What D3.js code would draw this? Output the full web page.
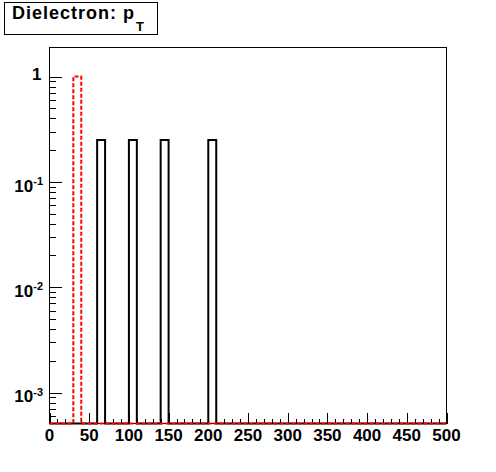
<!DOCTYPE html>
<html>
<head>
<meta charset="utf-8">
<script src="https://cdn.jsdelivr.net/npm/d3@7"></script>
<style>
  body { margin: 0; background: #fff; }
  text { font-family: "Liberation Sans", Arial, sans-serif; font-weight: bold; fill: #000; }
</style>
</head>
<body>
<script>
// histogram data (bin width 10, empty bins are zero)
var binWidth = 10;
var xRange = [0, 500];
var blackBinLow = [60, 100, 140, 200];
var blackValues = [0.25, 0.25, 0.25, 0.25];
var redBinLow = [30];
var redValues = [1];

// axis ticks
var xTickLabels = [0, 50, 100, 150, 200, 250, 300, 350, 400, 450, 500];
var yMajorTicks = [0.001, 0.01, 0.1, 1];
var yTickExponents = [-3, -2, -1, 0];
var yRange = [5.08e-4, 1.885];

// plot frame
var frame = {left: 49.5, right: 446.5, top: 47.5, bottom: 423.5};

var svg = d3.select("body").append("svg")
    .attr("width", 496)
    .attr("height", 472);

svg.append("rect")
    .attr("width", 496)
    .attr("height", 472)
    .attr("fill", "#fff");

var x = d3.scaleLinear().domain(xRange).range([frame.left, frame.right]);
var y = d3.scaleLog().domain(yRange).range([frame.bottom, frame.top]);

// frame
svg.append("rect")
    .attr("x", frame.left)
    .attr("y", frame.top)
    .attr("width", frame.right - frame.left)
    .attr("height", frame.bottom - frame.top)
    .attr("fill", "none")
    .attr("stroke", "#000")
    .attr("stroke-width", 1);

// x axis ticks (major every 50, minor every 10)
var xMinor = [];
for (var v = xRange[0]; v <= xRange[1]; v += binWidth) xMinor.push(v);

svg.append("g")
    .attr("transform", "translate(0," + frame.bottom + ")")
    .call(d3.axisBottom(x).tickValues(xMinor).tickSize(-5).tickFormat(""))
    .call(function(g) { g.select(".domain").remove(); });

svg.append("g")
    .attr("transform", "translate(0," + frame.bottom + ")")
    .call(d3.axisBottom(x).tickValues(xTickLabels).tickSize(-11).tickFormat(""))
    .call(function(g) { g.select(".domain").remove(); });

svg.selectAll(".xlabel")
    .data(xTickLabels)
  .enter().append("text")
    .attr("class", "xlabel")
    .attr("x", function(d) { return x(d); })
    .attr("y", 441)
    .attr("text-anchor", "middle")
    .style("font-size", "17px")
    .text(function(d) { return d; });

// y axis ticks (log, minor at 2..9 of each decade)
var yMinor = [];
yMajorTicks.forEach(function(d) {
  for (var k = 1; k < 10; k++) {
    var t = d * k;
    if (t >= yRange[0] && t <= yRange[1]) yMinor.push(t);
  }
});
yMinor.push(0.0006, 0.0007, 0.0008, 0.0009);

svg.append("g")
    .attr("transform", "translate(" + frame.left + ",0)")
    .call(d3.axisLeft(y).tickValues(yMinor).tickSize(-6).tickFormat(""))
    .call(function(g) { g.select(".domain").remove(); });

svg.append("g")
    .attr("transform", "translate(" + frame.left + ",0)")
    .call(d3.axisLeft(y).tickValues(yMajorTicks).tickSize(-12).tickFormat(""))
    .call(function(g) { g.select(".domain").remove(); });

svg.selectAll(".tick line").attr("stroke", "#000").attr("shape-rendering", "crispEdges");

// y labels: "1" and 10^n
yMajorTicks.forEach(function(d, i) {
  var e = yTickExponents[i];
  if (e === 0) {
    svg.append("text")
        .attr("x", 41.5)
        .attr("y", y(d) + 3.5)
        .attr("text-anchor", "end")
        .style("font-size", "17px")
        .text("1");
  } else {
    var t = svg.append("text")
        .attr("x", 43)
        .attr("y", y(d) + 9.8)
        .attr("text-anchor", "end")
        .style("font-size", "17px");
    t.append("tspan").text("10");
    t.append("tspan")
        .attr("dy", -6.7)
        .style("font-size", "11px")
        .text(String(e).replace("-", "\u2011"));
  }
});

// histogram step paths
function stepPoints(lows, vals) {
  var pts = [[xRange[0], 0]];
  lows.forEach(function(lo, i) {
    pts.push([lo, 0], [lo, vals[i]], [lo + binWidth, vals[i]], [lo + binWidth, 0]);
  });
  pts.push([xRange[1], 0]);
  return pts;
}

var histLine = d3.line()
    .x(function(d) { return x(d[0]); })
    .y(function(d) { return d[1] > 0 ? y(d[1]) : frame.bottom; });

svg.append("path")
    .datum(stepPoints(blackBinLow, blackValues))
    .attr("d", histLine)
    .attr("fill", "none")
    .attr("stroke", "#000")
    .attr("stroke-width", 2);

svg.append("path")
    .datum(stepPoints(redBinLow, redValues))
    .attr("d", histLine)
    .attr("fill", "none")
    .attr("stroke", "#ff0000")
    .attr("stroke-width", 2)
    .attr("stroke-dasharray", "4,2");

// title box
svg.append("rect")
    .attr("x", 4.5)
    .attr("y", 2.5)
    .attr("width", 153)
    .attr("height", 32)
    .attr("fill", "#fff")
    .attr("stroke", "#000")
    .attr("stroke-width", 1);

var title = svg.append("text")
    .attr("x", 12)
    .attr("y", 19)
    .style("font-size", "18px")
    .style("letter-spacing", "1px");
title.append("tspan").text("Dielectron: p");
title.append("tspan")
    .attr("dy", 12)
    .attr("dx", 1)
    .style("font-size", "13px")
    .style("letter-spacing", "0px")
    .text("T");
</script>
</body>
</html>
